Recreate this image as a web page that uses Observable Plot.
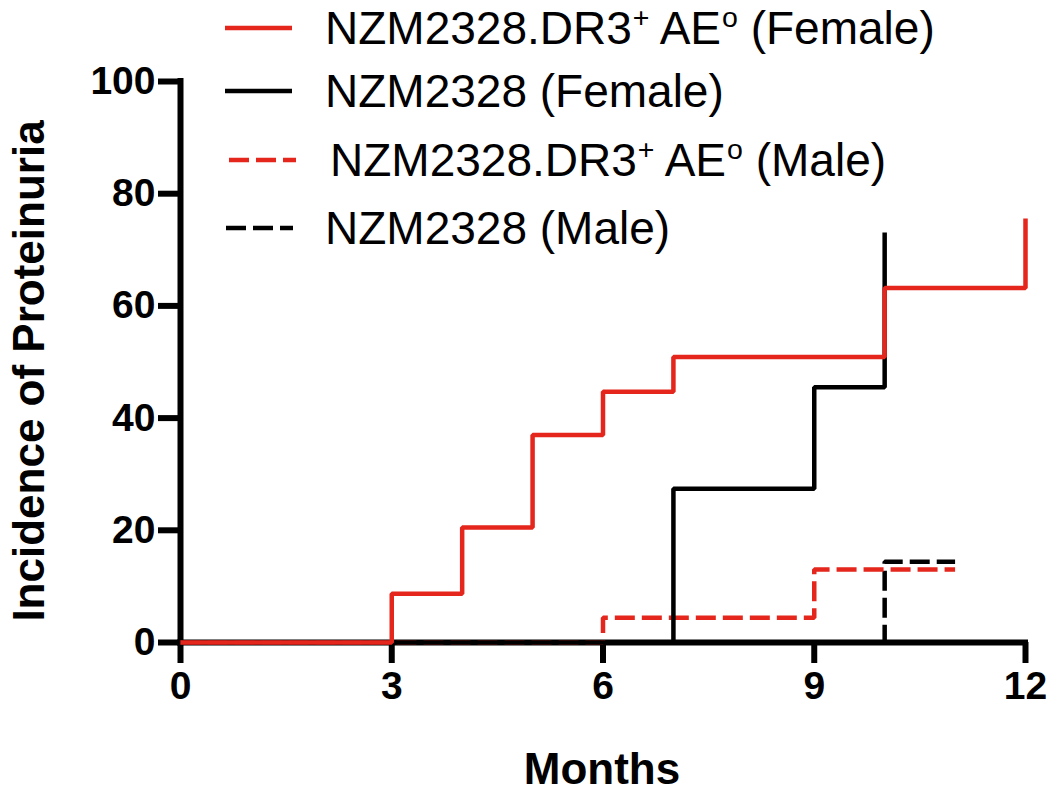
<!DOCTYPE html>
<html>
<head>
<meta charset="utf-8">
<script src="https://cdn.jsdelivr.net/npm/d3@7"></script>
<script src="https://cdn.jsdelivr.net/npm/@observablehq/plot@0.6"></script>
<style>
  html, body { margin: 0; padding: 0; background: #fff; }
  #wrap { position: relative; width: 1050px; height: 791px; font-family: "Liberation Sans", Arial, sans-serif; }
  .abs { position: absolute; white-space: nowrap; color: #000; }
  .leg { font-size: 46px; line-height: 50px; }
  .leg sup { font-size: 0.62em; line-height: 1; vertical-align: 0; position: relative; top: -0.6em; margin-left: 1px; }
  .title { font-weight: bold; font-size: 44px; line-height: 50px; }
</style>
</head>
<body>
<div id="wrap"></div>
<script>
// ---- data ----
const xTicks = [0, 3, 6, 9, 12];
const yTicks = [0, 20, 40, 60, 80, 100];

const dr3FemaleMonths = [0, 3, 4, 5, 6, 7, 10, 12];
const dr3FemaleIncidence = [0, 8.7, 20.5, 37.0, 44.7, 50.9, 63.2, 75.6];

const nzmFemaleMonths = [0, 7, 9, 10];
const nzmFemaleIncidence = [0, 27.4, 45.5, 73.1];

const dr3MaleMonths = [0, 6, 9, 11];
const dr3MaleIncidence = [0, 4.4, 13.0, 13.0];

const nzmMaleMonths = [0, 10, 11];
const nzmMaleIncidence = [0, 14.4, 14.4];

const seriesNames = [
  "NZM2328.DR3<sup>+</sup> AE<sup>o</sup> (Female)",
  "NZM2328 (Female)",
  "NZM2328.DR3<sup>+</sup> AE<sup>o</sup> (Male)",
  "NZM2328 (Male)"
];
const RED = "#e4261c";
const seriesColors = [RED, "#000", RED, "#000"];
const seriesDash = [null, null, "20,7", "20,7"];

const toRows = (xs, ys) => xs.map((x, i) => ({x, y: ys[i]}));

const stepLine = (xs, ys, color, dash) => Plot.line(toRows(xs, ys), {
  x: "x", y: "y", curve: "step-after",
  stroke: color, strokeWidth: 4.5, strokeDasharray: dash ?? undefined,
  strokeLinecap: "butt", strokeLinejoin: "miter"
});

const chart = Plot.plot({
  width: 1050,
  height: 791,
  marginLeft: 180,
  marginRight: 25,
  marginTop: 81,
  marginBottom: 149,
  style: {fontFamily: "'Liberation Sans', Arial, sans-serif", background: "#fff", color: "#000"},
  x: {domain: [0, 12]},
  y: {domain: [0, 100]},
  marks: [
    Plot.axisX({ticks: xTicks, tickSize: 21, tickPadding: 8, strokeWidth: 6, fontSize: 39, fontWeight: "bold", label: null, tickFormat: d => String(d)}),
    Plot.axisY({ticks: yTicks, tickSize: 22, tickPadding: 3, strokeWidth: 6, fontSize: 39, fontWeight: "bold", label: null, tickFormat: d => String(d)}),
    Plot.ruleY([0], {stroke: "#000", strokeWidth: 6, strokeLinecap: "square"}),
    Plot.ruleX([0], {stroke: "#000", strokeWidth: 6, strokeLinecap: "square"}),
    stepLine(nzmMaleMonths, nzmMaleIncidence, seriesColors[3], seriesDash[3]),
    stepLine(dr3MaleMonths, dr3MaleIncidence, seriesColors[2], seriesDash[2]),
    stepLine(nzmFemaleMonths, nzmFemaleIncidence, seriesColors[1], seriesDash[1]),
    stepLine(dr3FemaleMonths, dr3FemaleIncidence, seriesColors[0], seriesDash[0])
  ]
});

const wrap = document.getElementById("wrap");
wrap.appendChild(chart);

// ---- legend (HTML overlay inside the plot area, top) ----
const legendRows = [
  {cy: 28, lineX: 225, textX: 325},
  {cy: 91, lineX: 225, textX: 325},
  {cy: 160, lineX: 229, textX: 330},
  {cy: 228, lineX: 226, textX: 325}
];
seriesNames.forEach((name, i) => {
  const r = legendRows[i];
  const sw = document.createElementNS("http://www.w3.org/2000/svg", "svg");
  sw.setAttribute("width", 70);
  sw.setAttribute("height", 10);
  sw.style.position = "absolute";
  sw.style.left = r.lineX + "px";
  sw.style.top = (r.cy - 5) + "px";
  const ln = document.createElementNS("http://www.w3.org/2000/svg", "line");
  ln.setAttribute("x1", 0); ln.setAttribute("x2", 67);
  ln.setAttribute("y1", 5); ln.setAttribute("y2", 5);
  ln.setAttribute("stroke", seriesColors[i]);
  ln.setAttribute("stroke-width", 4.5);
  if (seriesDash[i]) ln.setAttribute("stroke-dasharray", seriesDash[i]);
  sw.appendChild(ln);
  wrap.appendChild(sw);
  const t = document.createElement("div");
  t.className = "abs leg";
  t.style.left = r.textX + "px";
  t.style.top = (r.cy - 25) + "px";
  t.innerHTML = name;
  wrap.appendChild(t);
});

// ---- axis titles ----
const xt = document.createElement("div");
xt.className = "abs title";
xt.textContent = "Months";
xt.style.left = "602px";
xt.style.top = "744px";
xt.style.transform = "translateX(-50%)";
wrap.appendChild(xt);

const yt = document.createElement("div");
yt.className = "abs title";
yt.textContent = "Incidence of Proteinuria";
yt.style.left = "29px";
yt.style.top = "371px";
yt.style.transform = "translate(-50%, -50%) rotate(-90deg)";
wrap.appendChild(yt);
</script>
</body>
</html>
